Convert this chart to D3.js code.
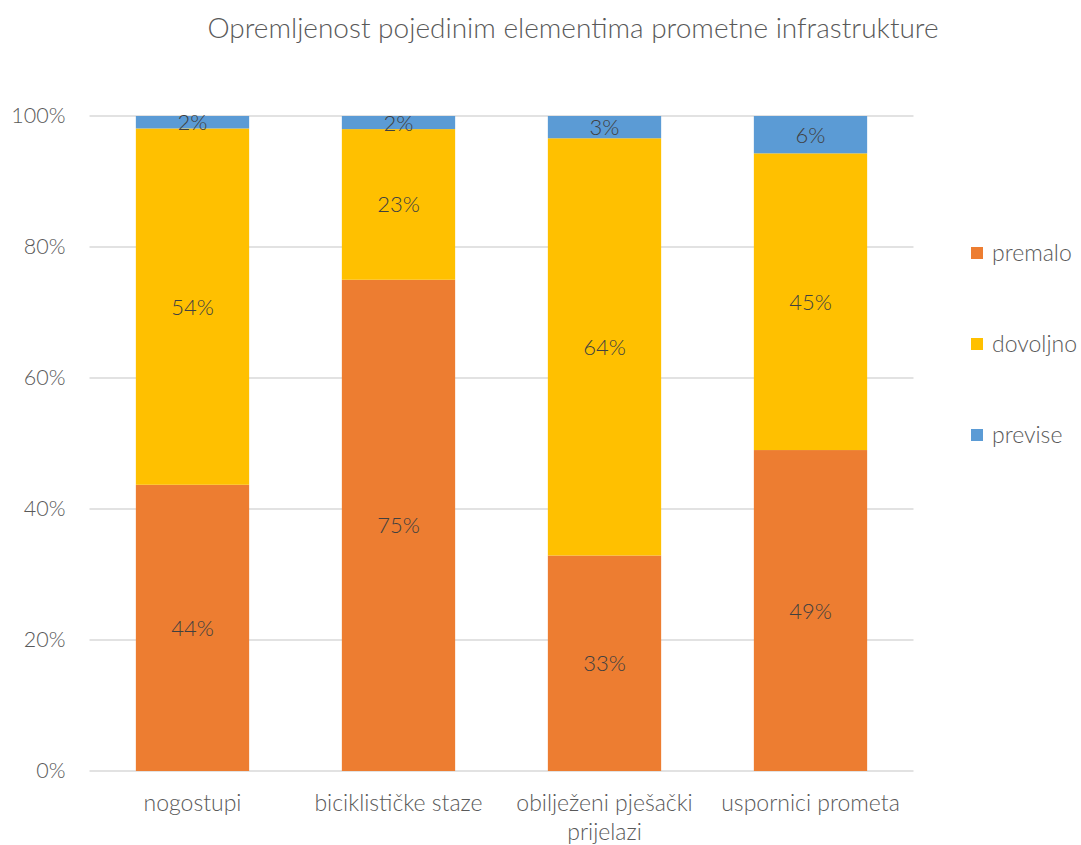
<!DOCTYPE html>
<html><head><meta charset="utf-8">
<script src="https://cdn.jsdelivr.net/npm/d3@7"></script>
<style>body{margin:0;background:#fff}svg{display:block}text{font-family:Lato,"Open Sans",sans-serif;font-weight:300}</style>
</head><body><svg id="c" width="1081" height="845"></svg>
<script>
const categories = ["nogostupi","biciklističke staze","obilježeni pješački prijelazi","uspornici prometa"];
const seriesNames = ["premalo","dovoljno","previse"];
const premalo = [43.7, 75.0, 32.9, 49.0];
const dovoljno = [54.4, 23.0, 63.7, 45.3];
const previse = [1.9, 2.0, 3.4, 5.7];
const yTicks = [0,20,40,60,80,100];
const colors = ["#ed7d31","#ffc000","#5b9bd5"];
const title = "Opremljenost pojedinim elementima prometne infrastrukture";

const FONT = "Lato,'Open Sans',sans-serif";
const svg = d3.select("#c");
const m = {l:89.5, r:1081-913.5, t:116, b:845-771};
const W = 1081, H = 845;
const x = d3.scaleBand().domain(categories).range([m.l, W-m.r]).paddingInner(0.45).paddingOuter(0.225);
const y = d3.scaleLinear().domain([0,100]).range([H-m.b, m.t]);

svg.append("text").attr("x",573).attr("y",38).attr("text-anchor","middle")
  .attr("font-size",28).attr("fill","#595959").text(title);

// gridlines
svg.append("g").selectAll("line").data(yTicks).join("line")
  .attr("x1",m.l).attr("x2",W-m.r).attr("y1",d=>y(d)).attr("y2",d=>y(d))
  .attr("stroke","#d9d9d9").attr("stroke-width",1.3);

const yAxis = d3.axisLeft(y).tickValues(yTicks).tickFormat(d=>d+"%").tickSize(0).tickPadding(24);
const ga = svg.append("g").attr("transform",`translate(${m.l},0)`).call(yAxis);
ga.select(".domain").remove();
ga.selectAll("text").attr("font-size",21.5).attr("fill","#595959").attr("font-family",FONT);

const data = categories.map((c,i)=>({cat:c, premalo:premalo[i], dovoljno:dovoljno[i], previse:previse[i]}));
const stack = d3.stack().keys(seriesNames)(data);
const g = svg.append("g");
stack.forEach((s,si)=>{
  const gs = g.append("g");
  gs.selectAll("rect").data(s).join("rect")
    .attr("x",d=>x(d.data.cat)).attr("width",x.bandwidth())
    .attr("y",d=>y(d[1])).attr("height",d=>y(d[0])-y(d[1]))
    .attr("fill",colors[si]);
  gs.selectAll("text").data(s).join("text")
    .attr("x",d=>x(d.data.cat)+x.bandwidth()/2)
    .attr("y",d=>(y(d[0])+y(d[1]))/2+8)
    .attr("text-anchor","middle").attr("font-size",22).attr("fill","#404040")
    .text(d=>Math.round(d[1]-d[0])+"%");
});

const xAxis = d3.axisBottom(x).tickSize(0).tickPadding(0);
const gx = svg.append("g").attr("transform",`translate(0,${H-m.b})`).call(xAxis);
gx.select(".domain").remove();
gx.selectAll("text").attr("font-size",23).attr("fill","#595959").attr("font-family",FONT)
  .attr("dy",null).attr("y",null)
  .each(function(d){
    const t = d3.select(this); t.text(null);
    const maxW = x.step();
    const words = d.split(" ");
    let lines=[], cur="";
    const tmp = svg.append("text").attr("font-size",23).attr("font-family",FONT).attr("font-weight",300);
    words.forEach(w=>{
      const test = cur?cur+" "+w:w;
      tmp.text(test);
      if(tmp.node().getComputedTextLength()>maxW-4 && cur){lines.push(cur);cur=w;} else cur=test;
    });
    lines.push(cur); tmp.remove();
    lines.forEach((l,i)=>t.append("tspan").attr("x",0).attr("y",40+i*29).text(l));
  });

// legend
const lg = svg.append("g");
seriesNames.forEach((s,i)=>{
  const yy = [253,344,435][i];
  lg.append("rect").attr("x",971).attr("y",yy-6).attr("width",12).attr("height",12).attr("fill",colors[i]);
  lg.append("text").attr("x",992).attr("y",yy+8).attr("font-size",23).attr("fill","#595959").text(s);
});
</script></body></html>
